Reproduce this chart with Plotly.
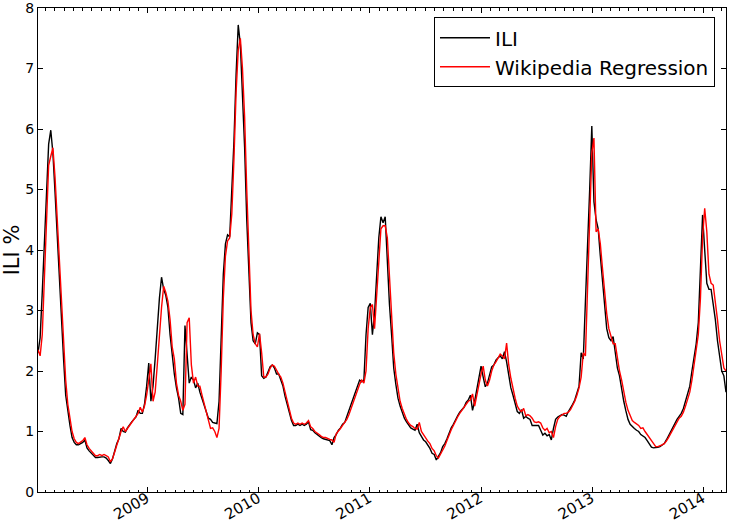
import pandas as pd
import plotly.graph_objects as go

# weekly values, first week 2008-01-06
start_week = "2008-01-06"

ili = [
    2.30, 2.55, 3.3, 4.2, 5.0, 5.75, 5.98, 5.6, 4.95, 4.2,
    3.55, 2.8, 2.2, 1.6, 1.3, 1.1, 0.9, 0.82, 0.78, 0.78,
    0.8, 0.82, 0.86, 0.73, 0.68, 0.64, 0.6, 0.57, 0.57, 0.58,
    0.58, 0.58, 0.56, 0.52, 0.47, 0.55, 0.68, 0.8, 0.88, 1.05,
    1.0, 0.99, 1.06, 1.12, 1.16, 1.2, 1.24, 1.35, 1.3, 1.3,
    1.45, 1.75, 2.13, 1.5, 1.75, 2.2, 2.75, 3.2, 3.55, 3.35,
    3.25, 3.05, 2.6, 2.25, 1.95, 1.72, 1.55, 1.3, 1.28, 2.75,
    2.2, 1.8, 1.9, 1.85, 1.72, 1.8, 1.65, 1.55, 1.45, 1.35,
    1.22, 1.2, 1.15, 1.14, 1.13, 1.5, 2.6, 3.6, 4.1, 4.25,
    4.22, 4.9, 5.8, 6.9, 7.72, 7.4, 6.6, 5.7, 4.5, 3.5,
    2.8, 2.5, 2.45, 2.63, 2.6, 1.92, 1.88, 1.9, 1.98, 2.07,
    2.1, 2.05, 1.95, 1.95, 1.85, 1.75, 1.58, 1.45, 1.3, 1.18,
    1.1, 1.1, 1.12, 1.1, 1.12, 1.1, 1.12, 1.16, 1.03, 1.02,
    0.98, 0.95, 0.92, 0.9, 0.88, 0.87, 0.86, 0.85, 0.78, 0.9,
    0.95, 1.02, 1.06, 1.12, 1.15, 1.24, 1.33, 1.45, 1.55, 1.65,
    1.75, 1.85, 1.82, 1.85, 2.6, 3.05, 3.12, 2.6, 2.95, 3.5,
    4.2, 4.55, 4.45, 4.55, 3.8, 3.1, 2.6, 2.05, 1.78, 1.55,
    1.42, 1.3, 1.22, 1.16, 1.1, 1.06, 1.04, 1.02, 1.12, 0.98,
    0.92, 0.86, 0.83, 0.78, 0.72, 0.64, 0.62, 0.53, 0.6, 0.65,
    0.75, 0.8, 0.88, 0.98, 1.06, 1.12, 1.2, 1.26, 1.32, 1.36,
    1.4, 1.48, 1.52, 1.6, 1.35, 1.5, 1.7, 1.85, 2.08, 1.9,
    1.74, 1.8, 1.95, 2.07, 2.1, 2.18, 2.22, 2.25, 2.2, 2.32,
    2.15, 1.9, 1.72, 1.6, 1.45, 1.33, 1.3, 1.36, 1.22, 1.25,
    1.22, 1.2, 1.1, 1.1, 1.1, 1.1, 1.02, 0.94, 0.97, 0.93,
    0.95, 0.86, 1.05, 1.2, 1.24, 1.26, 1.28, 1.27, 1.25, 1.33,
    1.38, 1.45, 1.52, 1.65, 1.75, 2.3, 2.2, 3.15, 4.0, 5.0,
    6.05, 4.8, 4.5, 4.35, 3.9, 3.5, 3.1, 2.7, 2.55, 2.5,
    2.57, 2.3, 2.05, 1.92, 1.7, 1.5, 1.34, 1.2, 1.12, 1.08,
    1.05, 1.02, 1.0, 0.95, 0.92, 0.9, 0.85, 0.8, 0.74, 0.73,
    0.73, 0.74, 0.75, 0.77, 0.8, 0.86, 0.93, 0.99, 1.06, 1.15,
    1.2, 1.25, 1.3, 1.38, 1.5, 1.6, 1.75, 2.0, 2.2, 2.45,
    2.8, 3.6, 4.58, 4.0, 3.45, 3.35, 3.35, 3.1, 2.85, 2.5,
    2.2, 2.0, 1.92, 1.65,
]

wiki_regression = [
    2.35, 2.25, 2.6, 3.6, 4.6, 5.4, 5.55, 5.69, 5.2, 4.5,
    3.8, 3.1, 2.45, 1.85, 1.45, 1.2, 1.0, 0.88, 0.82, 0.8,
    0.82, 0.85, 0.9, 0.78, 0.72, 0.68, 0.64, 0.6, 0.6, 0.62,
    0.6, 0.62, 0.6, 0.58, 0.5, 0.55, 0.66, 0.78, 0.86, 1.0,
    1.08, 1.0, 1.05, 1.1, 1.15, 1.2, 1.25, 1.3, 1.4, 1.32,
    1.42, 1.6, 1.85, 2.12, 1.5, 1.65, 2.1, 2.6, 3.05, 3.4,
    3.3, 3.15, 2.85, 2.4, 2.2, 1.8, 1.6, 1.5, 1.35, 1.45,
    2.8, 2.88, 2.1, 1.8, 1.9, 1.75, 1.75, 1.6, 1.45, 1.3,
    1.2, 1.05, 1.06, 1.0, 0.9, 1.05, 2.0, 3.2, 3.9, 4.15,
    4.2, 4.6, 5.5, 6.6, 7.3, 7.5, 7.0, 6.2, 5.0, 3.9,
    3.0, 2.6, 2.45, 2.4, 2.62, 2.3, 1.9, 1.9, 1.95, 2.05,
    2.1, 2.08, 2.0, 1.95, 1.9, 1.8, 1.65, 1.5, 1.36, 1.22,
    1.14, 1.12, 1.14, 1.12, 1.14, 1.12, 1.14, 1.18, 1.08, 1.05,
    1.0, 0.98, 0.95, 0.92, 0.9, 0.9, 0.88, 0.87, 0.86, 0.82,
    0.96, 1.0, 1.05, 1.1, 1.15, 1.2, 1.28, 1.38, 1.5, 1.6,
    1.7, 1.78, 1.85, 1.8, 2.0, 2.7, 3.05, 3.1, 2.7, 3.2,
    3.8, 4.35, 4.4, 4.4, 4.2, 3.5, 2.9, 2.3, 1.95, 1.7,
    1.5, 1.38, 1.28, 1.2, 1.14, 1.1, 1.08, 1.05, 1.04, 1.15,
    1.0, 0.94, 0.88, 0.84, 0.8, 0.72, 0.68, 0.6, 0.56, 0.62,
    0.68, 0.76, 0.85, 0.95, 1.03, 1.1, 1.18, 1.24, 1.3, 1.35,
    1.4, 1.45, 1.5, 1.52, 1.62, 1.42, 1.6, 1.8, 1.95, 2.08,
    1.85, 1.75, 1.85, 2.0, 2.1, 2.15, 2.22, 2.28, 2.25, 2.2,
    2.46, 2.1, 1.88, 1.7, 1.55, 1.42, 1.36, 1.33, 1.38, 1.26,
    1.28, 1.26, 1.22, 1.16, 1.15, 1.16, 1.14, 1.06, 1.02, 1.05,
    0.98, 1.0, 0.9, 1.08, 1.2, 1.25, 1.27, 1.3, 1.3, 1.32,
    1.36, 1.42, 1.5, 1.6, 1.72, 1.9, 2.3, 2.25, 3.3, 4.5,
    5.6, 5.85, 4.3, 4.35, 4.1, 3.7, 3.3, 2.95, 2.7, 2.55,
    2.45, 2.45, 2.2, 2.0, 1.85, 1.65, 1.48, 1.35, 1.25, 1.18,
    1.15, 1.12, 1.1, 1.05, 1.06, 1.0, 0.95, 0.88, 0.83, 0.78,
    0.75, 0.75, 0.76, 0.78, 0.8, 0.84, 0.9, 0.96, 1.02, 1.1,
    1.15, 1.22, 1.25, 1.32, 1.42, 1.52, 1.65, 1.85, 2.1, 2.35,
    2.6, 3.2, 4.2, 4.69, 4.3, 3.6, 3.45, 3.42, 3.15, 2.85,
    2.5, 2.25, 2.05, 2.0,
]

y_ticks = [0, 1, 2, 3, 4, 5, 6, 7, 8]

weeks = pd.date_range(start_week, periods=len(ili), freq="W-SUN")

font = "DejaVu Sans, Arial, sans-serif"

fig = go.Figure()
fig.add_trace(go.Scatter(
    x=weeks, y=ili, mode="lines", name="ILI", legendgroup="a",
    line=dict(color="black", width=1.4),
))
fig.add_trace(go.Scatter(
    x=weeks, y=wiki_regression, mode="lines", name="Wikipedia Regression",
    legendgroup="b",
    line=dict(color="red", width=1.4),
))

fig.update_layout(
    width=729, height=524,
    margin=dict(l=38, r=3, t=8, b=32),
    paper_bgcolor="white", plot_bgcolor="white",
    font=dict(family=font, size=14, color="black"),
    showlegend=True,
    legend=dict(
        x=0.984, y=0.981, xanchor="right", yanchor="top",
        bordercolor="black", borderwidth=1, bgcolor="white",
        font=dict(size=20), tracegroupgap=0, itemwidth=50,
    ),
)
fig.update_xaxes(
    range=[weeks[0], weeks[-1]], automargin=False,
    showgrid=False, zeroline=False,
    showline=True, linecolor="black", linewidth=1, mirror="allticks",
    ticks="inside", ticklen=5, tickcolor="black",
    tick0="2009-01-01", dtick="M12", tickformat="%Y", tickangle=-30,
    tickfont=dict(size=15), ticklabelstandoff=-9, ticklabelshift=-1,
    minor=dict(dtick="M1", ticks="inside", ticklen=2.5, tickcolor="black"),
)
fig.update_yaxes(
    range=[0, 8], tickvals=y_ticks, ticklabeloverflow="allow",
    automargin=False,
    showgrid=False, zeroline=False,
    showline=True, linecolor="black", linewidth=1, mirror="allticks",
    ticks="inside", ticklen=5, tickcolor="black",
    title=dict(text="ILI %", font=dict(size=21), standoff=4),
)

fig.write_html(
    "out.html",
    config={"displayModeBar": False},
    post_script="document.body.style.margin='0px';",
)
